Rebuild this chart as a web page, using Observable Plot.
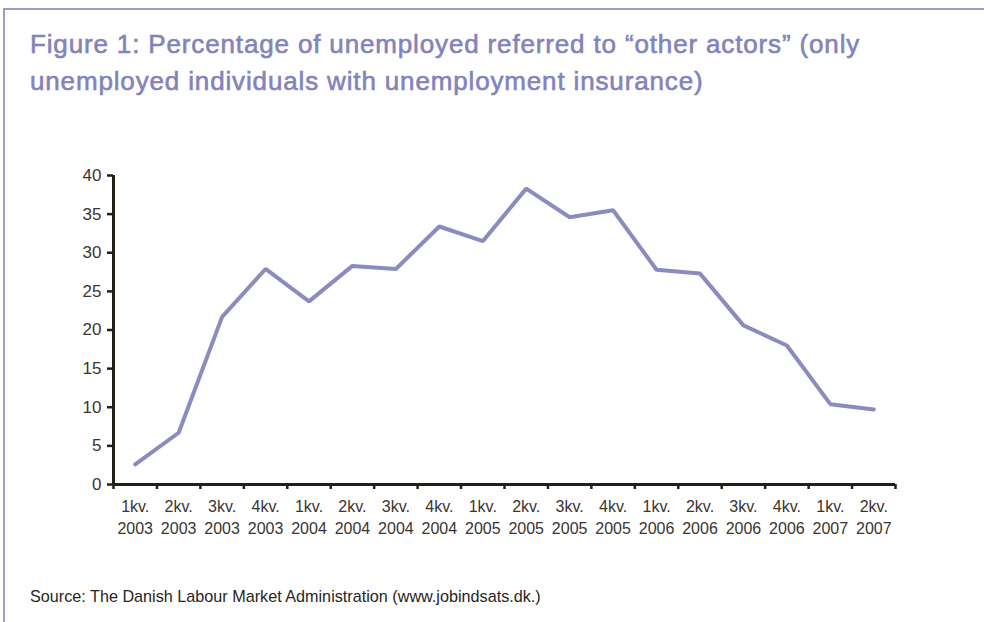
<!DOCTYPE html>
<html>
<head>
<meta charset="utf-8">
<script src="https://cdn.jsdelivr.net/npm/d3@7"></script>
<script src="https://cdn.jsdelivr.net/npm/@observablehq/plot@0.6"></script>
<style>
  html, body { margin: 0; padding: 0; background: #fff; }
  #wrap { position: relative; width: 984px; height: 622px; overflow: hidden; background: #fff; }
  #frameTop { position: absolute; left: 4px; top: 8px; width: 980px; height: 2px; background: #9d9dcb; }
  #frameLeft { position: absolute; left: 3px; top: 8px; width: 2px; height: 614px; background: #9d9dcb; }
  #title { position: absolute; left: 30px; top: 26px; font-family: "Liberation Sans", Arial, sans-serif; font-weight: 400; font-size: 26px; letter-spacing: 0.85px; line-height: 37px; color: #8383bc; -webkit-text-stroke: 0.6px #8383bc; white-space: nowrap; }
  #chart { position: absolute; left: 0; top: 150px; }
  #source { position: absolute; left: 30px; top: 587px; font-family: "Liberation Sans", Arial, sans-serif; font-size: 16.2px; color: #2a2520; white-space: nowrap; }
</style>
</head>
<body>
<div id="wrap">
  <div id="frameTop"></div>
  <div id="frameLeft"></div>
  <div id="title">Figure 1: Percentage of unemployed referred to “other actors” (only<br>unemployed individuals with unemployment insurance)</div>
  <div id="chart"></div>
  <div id="source">Source: The Danish Labour Market Administration (www.jobindsats.dk.)</div>
</div>
<script>
const quarters = ["1kv.","2kv.","3kv.","4kv.","1kv.","2kv.","3kv.","4kv.","1kv.","2kv.","3kv.","4kv.","1kv.","2kv.","3kv.","4kv.","1kv.","2kv."];
const years = ["2003","2003","2003","2003","2004","2004","2004","2004","2005","2005","2005","2005","2006","2006","2006","2006","2007","2007"];
const values = [2.6, 6.7, 21.7, 27.9, 23.7, 28.3, 27.9, 33.4, 31.5, 38.3, 34.6, 35.5, 27.8, 27.3, 20.6, 18.0, 10.4, 9.7];
const yTicks = [0, 5, 10, 15, 20, 25, 30, 35, 40];

const data = values.map((v, i) => ({i, v, q: quarters[i], yr: years[i]}));
const n = values.length;
const axisColor = "#231f16";
const textColor = "#3a3530";

const chart = Plot.plot({
  width: 984,
  height: 400,
  marginLeft: 113,
  marginRight: 89,
  marginTop: 25,
  marginBottom: 66,
  x: {type: "linear", domain: [0, n], axis: null},
  y: {domain: [0, 40], axis: null},
  style: {fontFamily: "'Liberation Sans', Arial, sans-serif", fontSize: "16px", background: "transparent", overflow: "visible"},
  marks: [
    Plot.axisY({ticks: yTicks, label: null, tickSize: 6, tickPadding: 6, stroke: axisColor, strokeWidth: 2.5, fill: textColor, fontSize: 17}),
    Plot.axisX({ticks: d3.range(0, n + 1), label: null, tickSize: 5, tickFormat: () => "", stroke: axisColor, strokeWidth: 2.5}),
    Plot.axisX(d3.range(n).map(i => i + 0.5), {label: null, tickSize: 0, tickPadding: 12, fill: textColor, fontSize: 16, lineHeight: 1.38,
      tickFormat: t => quarters[Math.floor(t)] + "\n" + years[Math.floor(t)]}),
    Plot.ruleX([0], {stroke: axisColor, strokeWidth: 3}),
    Plot.ruleY([0], {stroke: axisColor, strokeWidth: 3}),
    Plot.lineY(data, {x: d => d.i + 0.5, y: "v", stroke: "#8b8bc0", strokeWidth: 4, strokeLinejoin: "miter"})
  ]
});
document.getElementById("chart").appendChild(chart);
</script>
</body>
</html>
